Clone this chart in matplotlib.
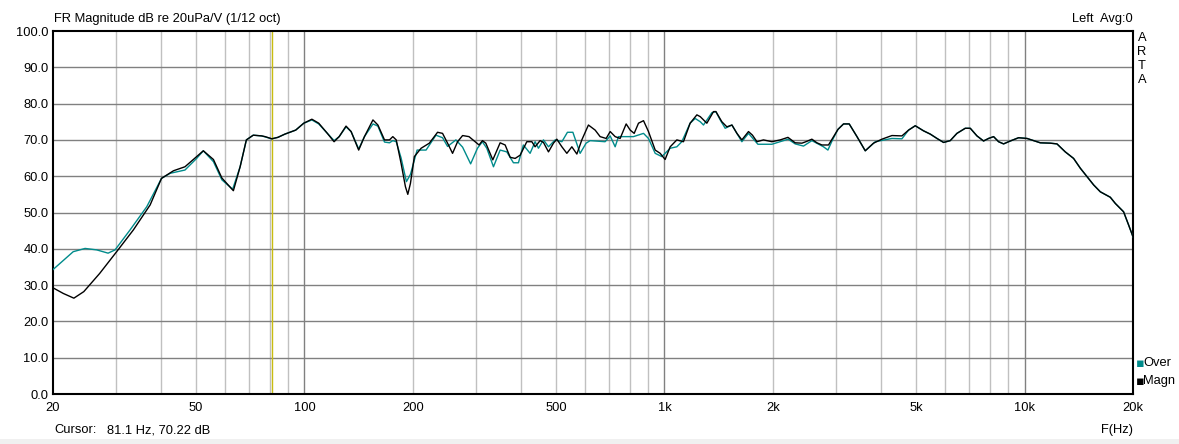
import numpy as np
import matplotlib
matplotlib.use("Agg")
import matplotlib.pyplot as plt
from matplotlib.ticker import FixedLocator, NullFormatter, NullLocator

# Magn trace (black)
magn_freq = [20, 21.4, 22.9, 24.4, 27.0, 30.1, 33.5, 37.3, 40.1, 43.3, 46.6, 50.2,
             52.4, 55.9, 59.0, 63.5, 66.3, 69.0, 72.1, 76.1, 77.8, 81.2, 84.4, 88.3,
             94.6, 99.6, 104.9, 109.6, 115.8, 120.9, 124.9, 130.5, 134.8, 141.5, 146.8,
             155.0, 160.0, 166.9, 172.3, 176.0, 179.9, 185.6, 190.8, 193.7, 197.0, 202.0,
             210.9, 222.3, 234.3, 241.9, 249.8, 257.9, 266.3, 275.0, 286.5, 297.8, 305.5,
             312.3, 319, 333.6, 349.6, 361, 372.8, 384.8, 397.4, 414.6, 428.2, 437.2,
             451.4, 461.2, 476.2, 491.6, 502.4, 518.8, 535.6, 553, 571, 589.4, 614.8,
             641.8, 662.6, 688.6, 706.6, 729.4, 753, 782.6, 803, 823.8, 846.8, 874.4,
             902.6, 942.2, 972.8, 1004, 1037, 1082, 1129, 1178, 1230, 1257, 1311, 1368,
             1389, 1443, 1490, 1539, 1589, 1640, 1711, 1755, 1806, 1883, 1987, 2096,
             2202, 2306, 2408, 2470, 2566, 2650, 2736, 2854, 2928, 3032, 3142, 3258,
             3424, 3610, 3806, 4016, 4282, 4564, 4762, 4970, 5240, 5470, 5710, 5956,
             6216, 6488, 6842, 7066, 7374, 7692, 7942, 8202, 8468, 8742, 9126, 9622,
             10154, 10592, 11056, 11786, 12300, 12970, 13678, 14280, 14904, 15548,
             16228, 17298, 17860, 18830, 19440, 20000]
magn_db = [29.3, 27.7, 26.4, 28.2, 33.2, 39.2, 45.2, 52.1, 59.4, 61.5, 62.6, 65.4,
           67.0, 64.6, 59.5, 56.0, 62.6, 70.0, 71.3, 71.1, 70.9, 70.3, 70.7, 71.6,
           72.7, 74.6, 75.7, 74.6, 71.8, 69.5, 70.9, 73.8, 72.3, 67.2, 70.9,
           75.5, 74.1, 70.0, 70.0, 70.9, 70.0, 63.5, 57.1, 55.0, 58.0, 65.4,
           67.7, 69.1, 72.1, 71.8, 69.1, 66.3, 69.5, 71.2, 70.9, 69.5, 68.6,
           69.8, 69.1, 64.5, 69.2, 68.6, 65.2, 64.9, 65.8, 69.5, 69.5, 68.1,
           69.8, 69.3, 66.7, 69.1, 70.2, 68.1, 66.3, 68.1, 66.1, 70.0, 74.1,
           72.7, 70.9, 70.4, 72.3, 70.9, 70.4, 74.4, 72.7, 71.8, 74.6, 75.3,
           72.3, 67.2, 66.3, 64.6, 68.1, 70.0, 69.5, 74.6, 76.9, 76.4, 74.6, 77.8,
           77.8, 75.0, 73.6, 74.1, 71.8, 70.0, 72.3, 71.3, 69.5, 70.0, 69.5, 70.0,
           70.7, 69.2, 69.1, 69.5, 70.2, 69.2, 68.6, 68.6, 70.4, 72.9, 74.4, 74.4,
           70.9, 67.0, 69.1, 70.2, 71.2, 71.1, 72.7, 73.9, 72.5, 71.6, 70.4, 69.3,
           69.8, 71.8, 73.2, 73.2, 71.1, 69.7, 70.4, 70.9, 69.5, 68.9, 69.7, 70.6,
           70.4, 69.8, 69.2, 69.1, 68.9, 66.7, 64.9, 62.2, 59.9, 57.6,
           55.7, 54.2, 52.5, 50.2, 46.6, 43.3]

# Over trace (teal)
over_freq = [20, 22.8, 24.6, 26.5, 28.5, 29.8, 32.8, 36.5, 40.1, 42.4, 46.6, 50.2,
             52.4, 55.9, 59.0, 63.2, 66.3, 69.0, 72.1, 76.1, 81.2, 84.4, 88.3, 94.6,
             99.6, 104.9, 109.6, 115.8, 120.9, 124.9, 130.5, 134.8, 141.5, 146.8, 155,
             160, 166.9, 172.3, 176, 179.9, 185.6, 192.0, 197, 205.6, 217.7, 231.9,
             241.9, 249.8, 263.5, 275, 289.5, 302.4, 312, 321, 335, 349.6, 364.8,
             380.6, 393, 405.6, 423.4, 437.2, 446.6, 461.2, 476.2, 497, 518.8, 537.6,
             556.6, 583, 605.8, 621.6, 684, 706.6, 729.4, 745, 786, 820, 874.4, 902.6,
             942.2, 983, 1037, 1082, 1117, 1178, 1217, 1257, 1283, 1354, 1389, 1428,
             1474, 1539, 1589, 1640, 1711, 1817, 1987, 2205, 2306, 2432, 2566, 2764,
             2843, 2928, 3032, 3142, 3258, 3424, 3610, 3848, 4282, 4564, 4762, 4970,
             5240, 5470, 5710, 5956, 6216, 6488, 6842, 7066, 7374, 7692, 7942, 8202,
             8468, 8742, 9126, 9622, 10154, 10592, 11056, 11786, 12300, 12970, 13678,
             14280, 14904, 15548, 16228, 17298, 17860, 18830, 19440, 20000]
over_db = [34.2, 39.2, 40.1, 39.7, 38.8, 39.7, 45.2, 51.6, 59.4, 60.8, 61.7, 64.9,
           67.0, 64.0, 59.0, 56.4, 62.6, 70.0, 71.3, 71.1, 70.3, 70.7, 71.6, 72.7,
           74.6, 75.5, 74.4, 71.8, 69.8, 70.9, 73.6, 72.3, 67.5, 70.9, 74.4,
           73.8, 69.4, 69.2, 69.8, 69.5, 65.0, 58.5, 60.5, 67.2, 67.2, 71.3,
           70.6, 68.2, 70.0, 68.0, 63.4, 67.7, 69.5, 67.7, 62.6, 67.2, 66.7,
           63.7, 63.7, 68.6, 66.3, 69.5, 67.7, 70.0, 68.1, 70.0, 69.5, 72.1,
           72.1, 66.3, 69.1, 69.8, 69.5, 71.1, 68.1, 70.9, 70.9, 70.9, 71.8, 70.4,
           66.3, 65.4, 67.7, 68.1, 69.5, 74.6, 75.9, 75.0, 74.1, 77.5, 77.8, 75.5,
           73.2, 74.1, 71.8, 69.5, 71.8, 68.8, 68.8, 70.2, 68.9, 68.3, 69.8, 68.1,
           67.2, 70.0, 72.9, 74.4, 74.4, 70.9, 67.0, 69.5, 70.4, 70.3, 72.7, 73.9,
           72.5, 71.6, 70.4, 69.3, 69.8, 71.8, 73.2, 73.2, 71.1, 69.7, 70.4, 70.9,
           69.5, 68.9, 69.7, 70.6, 70.4, 69.8, 69.2, 69.1, 68.9, 66.7, 64.9,
           62.2, 59.9, 57.6, 55.7, 54.2, 52.5, 50.2, 46.6, 43.3]

x_ticks = [20, 50, 100, 200, 500, 1000, 2000, 5000, 10000, 20000]
x_tick_labels = ["20", "50", "100", "200", "500", "1k", "2k", "5k", "10k", "20k"]
y_ticks = list(range(0, 101, 10))
cursor_freq = 81.1
cursor_db = 70.22

plt.rcParams['font.family'] = ['Liberation Sans', 'DejaVu Sans']
fs = 9.3

W, H = 1179, 444
fig = plt.figure(figsize=(W / 100, H / 100), dpi=100)
ax = fig.add_axes([52.7 / W, 1 - 394 / H, (1133 - 52.7) / W, (394 - 31) / H])

ax.set_xscale('log')
ax.set_xlim(20, 20000)
ax.set_ylim(0, 100)

# grid
minor = [m * d for d in (10, 100, 1000) for m in range(2, 10)]
minor = [f for f in minor if 20 < f < 20000]
for f in minor:
    ax.axvline(f, color='#c0c0c0', lw=1, zorder=1)
for f in (100, 1000, 10000):
    ax.axvline(f, color='#808080', lw=1, zorder=1)
for y in y_ticks[1:-1]:
    ax.axhline(y, color='#808080', lw=1, zorder=1)

ax.axvline(cursor_freq, color='#c8bc10', lw=1, zorder=2)

ax.plot(over_freq, over_db, color='#008b8b', lw=1, zorder=3)
ax.plot(magn_freq, magn_db, color='black', lw=1, zorder=4)

ax.xaxis.set_major_locator(FixedLocator(x_ticks))
ax.set_xticklabels(x_tick_labels)
ax.xaxis.set_minor_locator(NullLocator())
ax.xaxis.set_minor_formatter(NullFormatter())
ax.set_yticks(y_ticks)
ax.set_yticklabels([f"{v:.1f}" for v in y_ticks])
ax.tick_params(axis='both', length=0, labelsize=fs, pad=3)
ax.tick_params(axis='x', pad=6)
for s in ax.spines.values():
    s.set_color('black')
    s.set_linewidth(1.5)

# texts around the plot
fig.text(54 / W, 1 - 19 / H, "FR Magnitude dB re 20uPa/V (1/12 oct)", fontsize=fs,
         ha='left', va='center')
fig.text(1133 / W, 1 - 19 / H, "Left  Avg:0", fontsize=fs, ha='right', va='center')
fig.text(1142 / W, 1 - 59 / H, "A\nR\nT\nA", fontsize=fs, ha='center', va='center',
         linespacing=1.2)
fig.text(1136 / W, 1 - 363 / H, "\u25aa", color='#008b8b', fontsize=fs, ha='left',
         va='center', family='DejaVu Sans')
fig.text(1143 / W, 1 - 363 / H, "Over", fontsize=fs, ha='left', va='center')
fig.text(1136 / W, 1 - 381 / H, "\u25aa", color='black', fontsize=fs, ha='left',
         va='center', family='DejaVu Sans')
fig.text(1143 / W, 1 - 381 / H, "Magn", fontsize=fs, ha='left', va='center')
fig.text(54 / W, 1 - 433 / H, "Cursor:", fontsize=fs, ha='left', va='baseline')
fig.text(107 / W, 1 - 433 / H, f"{cursor_freq} Hz, {cursor_db:.2f} dB", fontsize=fs,
         ha='left', va='baseline')
fig.text(1133 / W, 1 - 433 / H, "F(Hz)", fontsize=fs, ha='right', va='baseline')

# window strip at the bottom
fig.patches.append(plt.Rectangle((0, 0), 1, 5 / H, transform=fig.transFigure,
                                 facecolor='#f0f0f0', edgecolor='none'))

fig.savefig("out.png", dpi=100)
